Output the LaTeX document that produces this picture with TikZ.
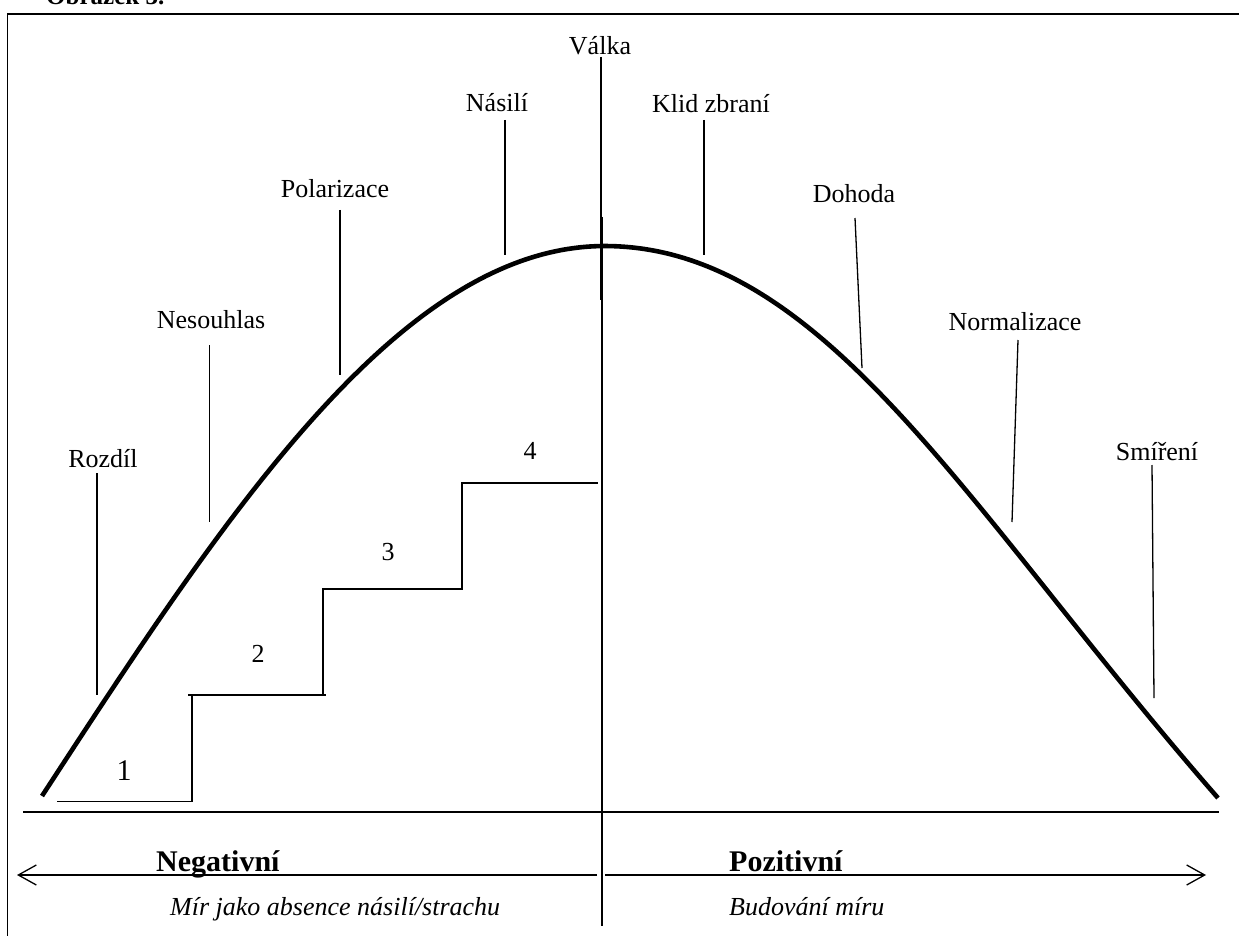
\documentclass[tikz,border=0pt]{standalone}
\usepackage{fontspec}
\setmainfont{Liberation Serif}
\usetikzlibrary{arrows.meta}
\begin{document}
\begin{tikzpicture}[x=1pt,y=-1pt,
  thinline/.style={line width=1.3pt, black},
  frameline/.style={line width=1.6pt, black},
  curveline/.style={line width=4.6pt, black},
  lbl/.style={font=\fontsize{26}{30}\selectfont, inner sep=0pt, anchor=base},
  numlbl/.style={font=\fontsize{26}{30}\selectfont, inner sep=0pt},
  biglbl/.style={font=\fontsize{30}{34}\selectfont, inner sep=0pt},
  sidelbl/.style={font=\fontsize{30}{34}\selectfont\bfseries, inner sep=0pt, anchor=base west},
  itlbl/.style={font=\fontsize{26}{30}\selectfont\itshape, inner sep=0pt, anchor=base west},
  arr/.style={line width=1.3pt, -{Straight Barb[length=18pt,width=20pt,line width=1.3pt]}}
]
\useasboundingbox (0,0) rectangle (1239,936);
% title (cut off at top)
\node[font=\fontsize{25}{28}\selectfont\bfseries, inner sep=0pt, anchor=base west] (title) at (46,5) {Obrázek 3.};
% frame
\coordinate (fTL) at (7.5,14);
\coordinate (fBL) at (7.5,936);
\coordinate (fTR) at (1239,14);
\draw[frameline] (fBL) -- (fTL) -- (fTR);
% base line
\coordinate (bL) at (23,812);
\coordinate (bR) at (1219,812);
\draw[frameline] (bL) -- (bR);
% curve
\draw[curveline] plot[domain=0:1, samples=120, smooth] ({42+563*\x},{796-550*sin(90*\x)})
  .. controls (825,246) and (968,512) .. (1218,798);
% stairs
\coordinate (s1a) at (57,801.7);
\coordinate (s1b) at (192,801.7);
\coordinate (s1c) at (192,695);
\coordinate (s2a) at (188,695);
\coordinate (s2b) at (326,695);
\coordinate (s2v) at (323,695);
\coordinate (s2c) at (323,589);
\coordinate (s3b) at (462,589);
\coordinate (s3c) at (462,483);
\coordinate (s4b) at (598,483);
\draw[thinline] (s1a) -- (s1b) -- (s1c);
\draw[thinline] (s2a) -- (s2b);
\draw[thinline] (s2v) -- (s2c) -- (s3b) -- (s3c) -- (s4b);
\node[biglbl] (n1) at (124,771) {1};
\node[numlbl] (n2) at (258,654) {2};
\node[numlbl] (n3) at (388,552) {3};
\node[numlbl] (n4) at (530,451) {4};
% labels and their lines
\node[lbl] (valka) at (600,55) {Válka};
\coordinate (valkaT) at (601,57);
\coordinate (valkaB) at (601,300);
\draw[thinline] (valkaT) -- (valkaB);
\coordinate (axisT) at (602,217);
\coordinate (axisB) at (602,926);
\draw[thinline] (axisT) -- (axisB);

\node[lbl] (klid) at (711,113) {Klid zbraní};
\coordinate (klidT) at (704,120);
\coordinate (klidB) at (704,255);
\draw[thinline] (klidT) -- (klidB);

\node[lbl] (nasili) at (497,112) {Násilí};
\coordinate (nasiliT) at (505,120);
\coordinate (nasiliB) at (505,255);
\draw[thinline] (nasiliT) -- (nasiliB);

\node[lbl] (polar) at (335,198) {Polarizace};
\coordinate (polarT) at (340,210);
\coordinate (polarB) at (340,375);
\draw[thinline] (polarT) -- (polarB);

\node[lbl] (nesouhlas) at (211,328) {Nesouhlas};
\coordinate (nesT) at (209.5,345);
\coordinate (nesB) at (209.5,522);
\draw[thinline] (nesT) -- (nesB);

\node[lbl] (rozdil) at (103,467) {Rozdíl};
\coordinate (rozT) at (97,473);
\coordinate (rozB) at (97,695);
\draw[thinline] (rozT) -- (rozB);

\node[lbl] (dohoda) at (854,203) {Dohoda};
\coordinate (dohT) at (855,218);
\coordinate (dohB) at (862,368);
\draw[thinline] (dohT) -- (dohB);

\node[lbl] (normal) at (1015,330) {Normalizace};
\coordinate (norT) at (1018,340);
\coordinate (norB) at (1012,522);
\draw[thinline] (norT) -- (norB);

\node[lbl] (smireni) at (1157,460) {Smíření};
\coordinate (smiT) at (1152,465);
\coordinate (smiB) at (1154,698);
\draw[thinline] (smiT) -- (smiB);

% bottom arrows
\coordinate (aL0) at (597,875);
\coordinate (aL1) at (17,875);
\coordinate (aR0) at (605,875);
\coordinate (aR1) at (1206,875);
\draw[arr] (aL0) -- (aL1);
\draw[arr] (aR0) -- (aR1);
\node[sidelbl] (neg) at (156,871) {Negativní};
\node[sidelbl] (poz) at (729,871) {Pozitivní};
\node[itlbl] (mir) at (170,915) {Mír jako absence násilí/strachu};
\node[itlbl] (bud) at (729,915) {Budování míru};
\end{tikzpicture}
\end{document}
